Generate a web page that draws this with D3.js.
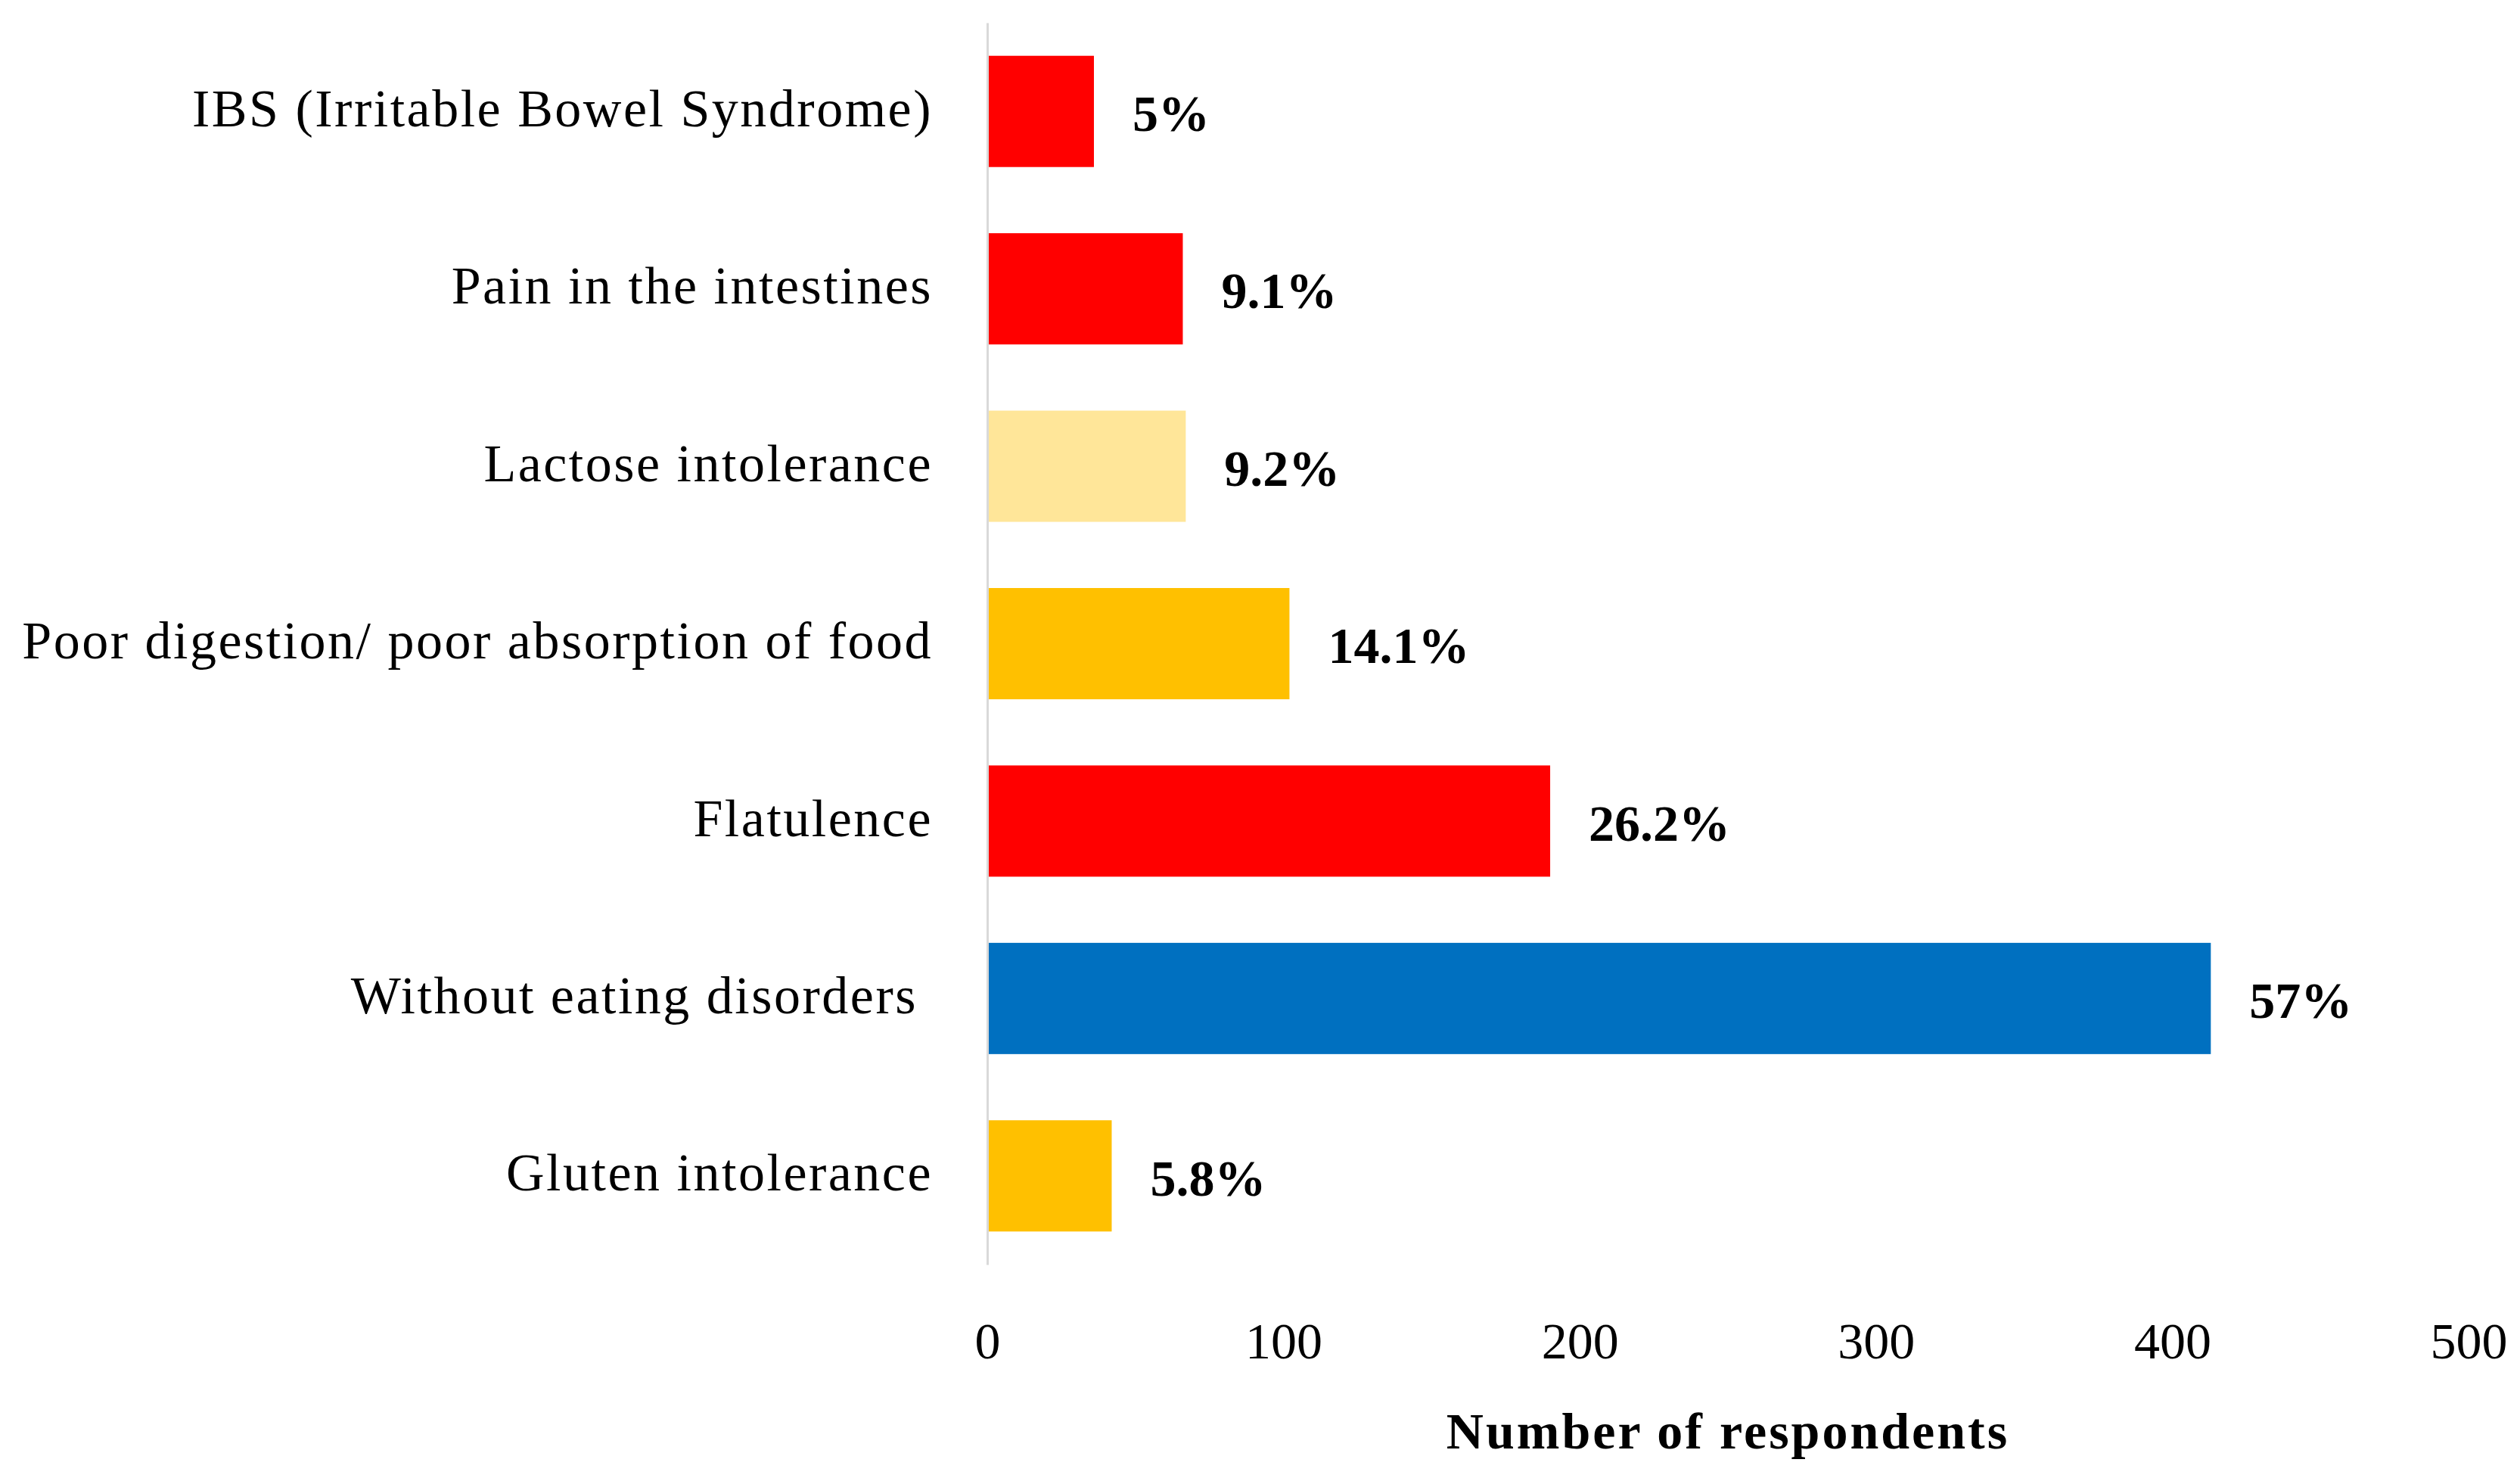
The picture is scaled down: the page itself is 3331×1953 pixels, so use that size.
<!DOCTYPE html>
<html>
<head>
<meta charset="utf-8">
<script src="https://cdn.jsdelivr.net/npm/d3@7"></script>
<style>
  body { margin: 0; background: #fff; }
  text { font-family: "Liberation Serif", "DejaVu Serif", serif; fill: #000; }
</style>
</head>
<body>
<div id="chart"></div>
<script>
'use strict'

// data, top to bottom as in the picture
const categories = [
    'IBS (Irritable Bowel Syndrome)',
    'Pain in the intestines',
    'Lactose intolerance',
    'Poor digestion/ poor absorption of food',
    'Flatulence',
    'Without eating disorders ',
    'Gluten intolerance'
]
const respondents = [36, 66, 67, 102, 190, 413, 42]
const percentLabels = ['5%', '9.1%', '9.2%', '14.1%', '26.2%', '57%', '5.8%']
const barColors = ['#FF0000', '#FF0000', '#FFE699', '#FFC000', '#FF0000', '#0070C0', '#FFC000']
const xTicks = [0, 100, 200, 300, 400, 500]

const data = categories.map((c, i) => ({
    cat: c, value: respondents[i], label: percentLabels[i], color: barColors[i]
}))

////////////////////////////////////
//////////// svg setup /////////////
////////////////////////////////////

const svgWidth = 3331
const svgHeight = 1953
const fontSize = 68

const svg = d3.select('#chart')
    .append('svg')
    .attr('width', svgWidth)
    .attr('height', svgHeight)

////////////////////////////////////
//////////////scales////////////////
////////////////////////////////////

const xScale = d3.scaleLinear()
    .domain([0, 500])
    .range([1305, 3263])

const yScale = d3.scaleBand()
    .domain(categories)
    .range([30, 1671])
    .paddingInner(0.373)
    .paddingOuter(0.1865)

////////////////////////////////////
//////////////axes//////////////////
////////////////////////////////////

const yAxis = svg.append('g')
    .attr('transform', `translate(${xScale(0)},0)`)
    .call(d3.axisLeft(yScale).tickSizeInner(0).tickSizeOuter(0).tickPadding(72))

yAxis.select('.domain')
    .attr('stroke', '#d9d9d9')
    .attr('stroke-width', 3)

// category labels: palatino-ish width with a narrower fallback font
yAxis.selectAll('text')
    .attr('font-size', 70)
    .attr('font-family', null)
    .attr('letter-spacing', 2.5)
    .attr('dy', '0.28em')
    .style('white-space', 'pre')

const xAxis = svg.append('g')
    .attr('transform', 'translate(0,1671)')
    .call(d3.axisBottom(xScale).tickValues(xTicks).tickSize(0))

xAxis.select('.domain').remove()
xAxis.selectAll('text')
    .attr('font-size', fontSize)
    .attr('font-family', null)
    .attr('y', 100)
    .attr('dy', '0.35em')

svg.append('text')
    .attr('x', (xScale(0) + xScale(500)) / 2)
    .attr('y', 1890)
    .attr('dy', '0.35em')
    .attr('text-anchor', 'middle')
    .attr('font-size', fontSize)
    .attr('font-weight', 'bold')
    .attr('letter-spacing', 3)
    .text('Number of respondents')

////////////////////////////////////
//////////////bars//////////////////
////////////////////////////////////

svg.selectAll('.bar')
    .data(data)
    .join('rect')
    .attr('class', 'bar')
    .attr('x', xScale(0) + 2)
    .attr('y', d => yScale(d.cat))
    .attr('width', d => xScale(d.value) - xScale(0) - 2)
    .attr('height', yScale.bandwidth())
    .attr('fill', d => d.color)

svg.selectAll('.pct')
    .data(data)
    .join('text')
    .attr('class', 'pct')
    .attr('x', d => xScale(d.value) + 51)
    .attr('y', d => yScale(d.cat) + yScale.bandwidth() / 2 + 2)
    .attr('dy', '0.35em')
    .attr('font-size', fontSize)
    .attr('font-weight', 'bold')
    .text(d => d.label)
</script>
</body>
</html>
